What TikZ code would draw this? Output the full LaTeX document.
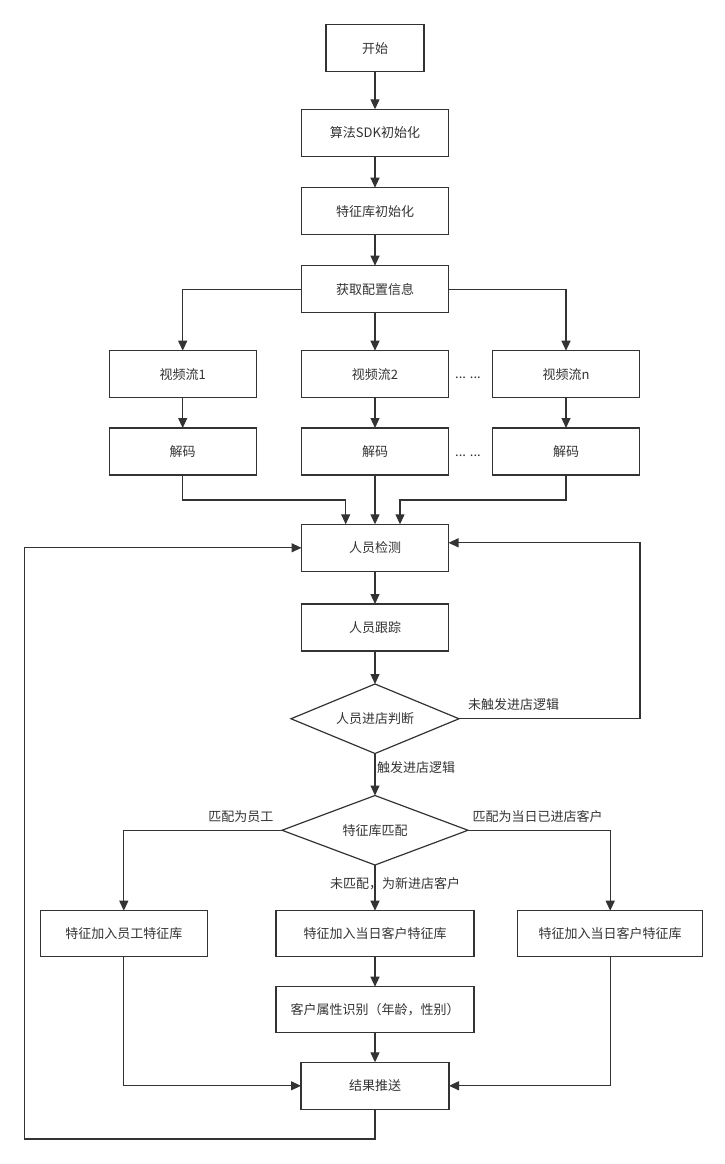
\documentclass[tikz,border=0pt]{standalone}
\usepackage{fontspec}
\setmainfont{Noto Sans CJK SC}
\usepackage{tikz}
\usetikzlibrary{positioning,calc,shapes.geometric,arrows.meta}
\definecolor{linec}{HTML}{333333}

\begin{document}
\begin{tikzpicture}[x=1pt,y=1pt,
		font=\fontsize{13}{15}\selectfont,
		box/.style={rectangle,draw=linec,line width=1.2pt,text=linec,minimum width=147pt,minimum height=47pt,inner sep=2pt,outer sep=0pt},
		dec/.style={diamond,draw=linec,line width=1.2pt,text=linec,aspect=2.5,inner sep=0pt,outer sep=0pt,minimum height=69.5pt},
		lbl/.style={text=linec,inner sep=0pt},
		arr/.style={draw=linec,line width=1.2pt,-{Triangle[length=10pt,width=9pt]}}]
		\useasboundingbox (0,0) rectangle (725,-1164);
		
		\node[box,minimum width=98pt] (start) at (375,-48.3) {开始};
		\node[box,below=37.5pt of start] (sdk) {算法SDK初始化};
		\node[box,below=31.4pt of sdk] (lib) {特征库初始化};
		\node[box,below=31pt of lib] (cfg) {获取配置信息};
		
		\node[box,below=38pt of cfg] (v2) {视频流2};
		\node[box,below left=38pt and 45.3pt of cfg] (v1) {视频流1};
		\node[box,below right=38pt and 44pt of cfg] (vn) {视频流n};
		\node[box,below=30.3pt of v1] (d1) {解码};
		\node[box,below=30.3pt of v2] (d2) {解码};
		\node[box,below=30.3pt of vn] (d3) {解码};
		\node[lbl] (dots1) at ($(v2.east)!0.5!(vn.west)+(-2.5,-3.7)$) {... ...};
		\node[lbl] (dots2) at ($(d2.east)!0.5!(d3.west)+(-2.5,-4.3)$) {... ...};
		
		\node[box,below=49.3pt of d2] (detect) {人员检测};
		\node[box,below=32.7pt of detect] (track) {人员跟踪};
		\node[dec,minimum width=168pt,below=33pt of track] (judge) {人员进店判断};
		\node[dec,minimum width=186pt,below=42pt of judge] (match) {特征库匹配};
		
		\node[box,minimum width=198pt,minimum height=45.5pt,below=45.7pt of match] (new) {特征加入当日客户特征库};
		\node[box,minimum width=167pt,minimum height=45.5pt,left=68.7pt of new] (emp) {特征加入员工特征库};
		\node[box,minimum width=185pt,minimum height=45.5pt,right=43.7pt of new] (old) {特征加入当日客户特征库};
		\node[box,minimum width=198pt,minimum height=45.5pt,below=30.5pt of new] (attr) {客户属性识别（年龄，性别）};
		\node[box,minimum width=148pt,below=30.1pt of attr] (push) {结果推送};
		
		% labels
		\node[lbl,anchor=west] (l1) at ($(judge.east)+(9,14)$) {未触发进店逻辑};
		\node[lbl,anchor=west] (l2) at ($(judge.south)+(2,-14.5)$) {触发进店逻辑};
		\node[lbl,anchor=east] (l3) at ($(match.west)+(-8.5,13.3)$) {匹配为员工};
		\node[lbl,anchor=west] (l4) at ($(match.east)+(4.5,14)$) {匹配为当日已进店客户};
		\node[lbl] (l5) at ($(match.south)+(20,-19)$) {未匹配，为新进店客户};
		
		\coordinate (mL) at ($(detect.north)+(-29.3,24.3)$);
		\coordinate (mR) at ($(detect.north)+(25,24.3)$);
		\coordinate (dR) at ($(detect.east)+(0,5)$);
		\coordinate (loopR) at (640,0);
		\coordinate (loopL) at ($(push.south)+(-350.3,-29.7)$);
		
		\draw[arr] (start.south)--(sdk.north);
		\draw[arr] (sdk.south)--(lib.north);
		\draw[arr] (lib.south)--(cfg.north);
		\draw[arr] (cfg.west)-|(v1.north);
		\draw[arr] (cfg.south)--(v2.north);
		\draw[arr] (cfg.east)-|(vn.north);
		\draw[arr] (v1.south)--(d1.north);
		\draw[arr] (v2.south)--(d2.north);
		\draw[arr] (vn.south)--(d3.north);
		\draw[arr] (d1.south)|-(mL)--(mL|-detect.north);
		\draw[arr] (d2.south)--(detect.north);
		\draw[arr] (d3.south)|-(mR)--(mR|-detect.north);
		\draw[arr] (detect.south)--(track.north);
		\draw[arr] (track.south)--(judge.north);
		\draw[arr] (judge.east)-|(loopR|-dR)--(dR);
		\draw[arr] (judge.south)--(match.north);
		\draw[arr] (match.west)-|(emp.north);
		\draw[arr] (match.south)--(new.north);
		\draw[arr] (match.east)-|(old.north);
		\draw[arr] (new.south)--(attr.north);
		\draw[arr] (attr.south)--(push.north);
		\draw[arr] (emp.south)|-(push.west);
		\draw[arr] (old.south)|-(push.east);
		\draw[arr] (push.south)|-(loopL)|-(detect.west);
	\end{tikzpicture}
\end{document}
